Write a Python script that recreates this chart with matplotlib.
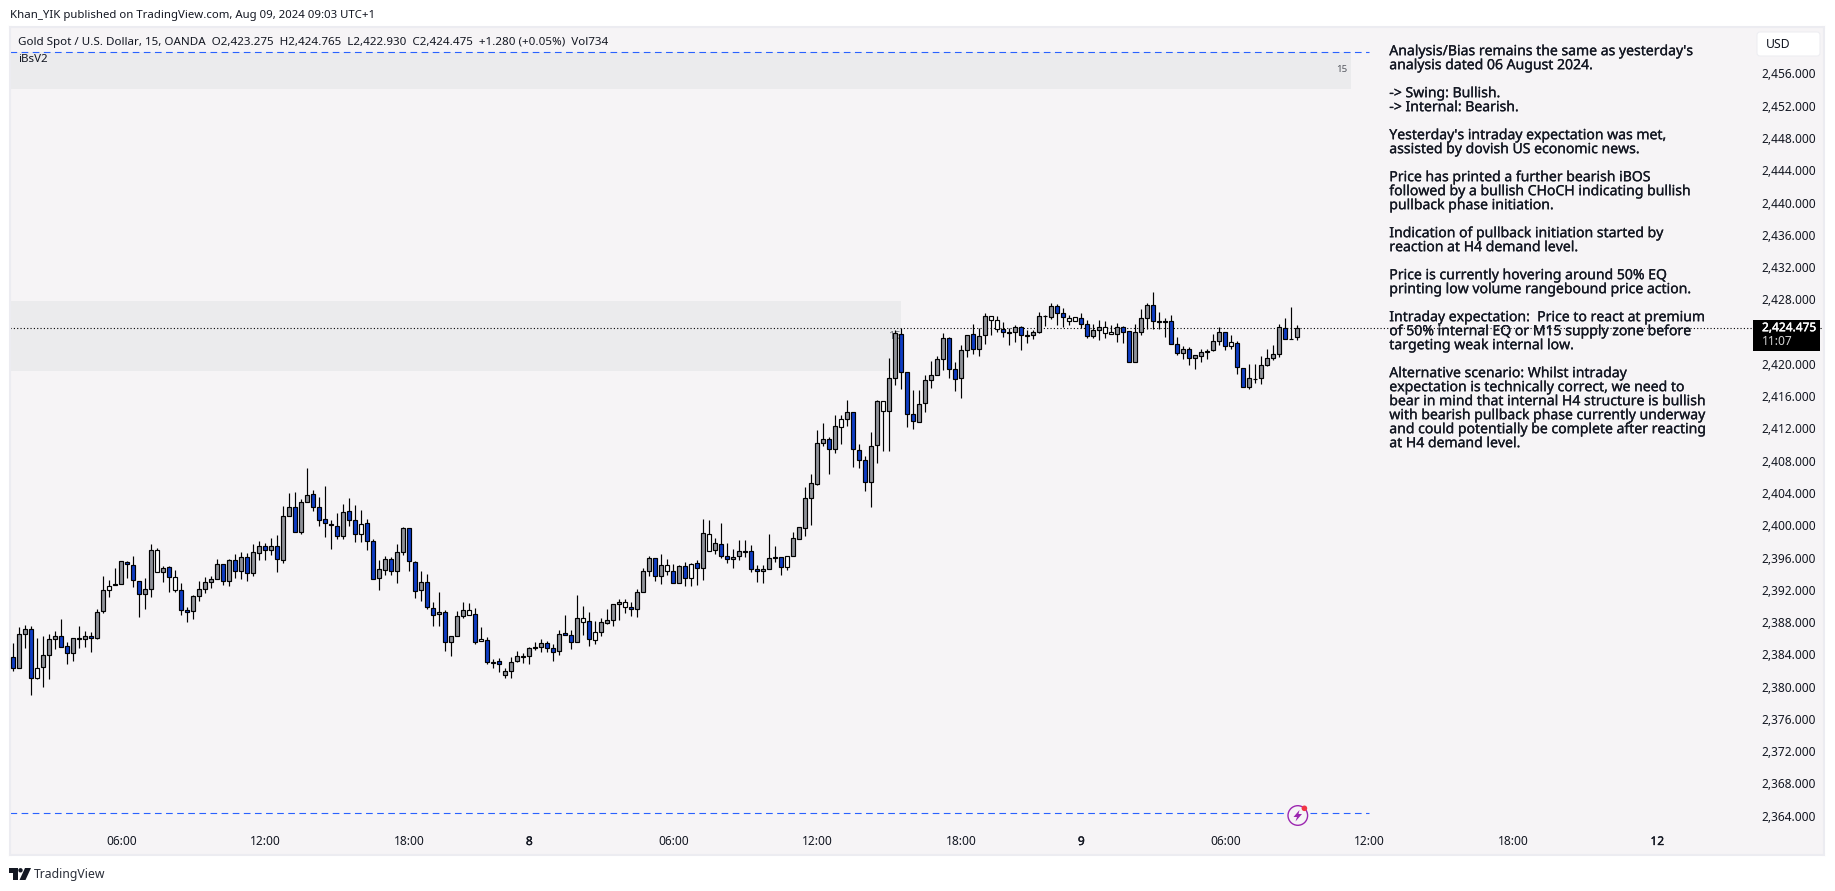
import matplotlib
matplotlib.use("Agg")
import matplotlib.pyplot as plt
import matplotlib.patheffects as pe
from matplotlib.patches import Rectangle, Circle, Polygon, FancyBboxPatch

# ---- OHLC values (15 min bars) ----
highs = [
 2385.37,2387.35,2387.60,2387.47,2385.98,2386.27,2386.48,2386.89,2388.38,2385.53,
 2385.98,2387.51,2386.89,2386.77,2389.58,2393.71,2393.22,2394.70,2395.61,2395.61,
 2396.15,2393.05,2393.46,2397.68,2397.14,2394.91,2394.91,2394.41,2392.80,2389.83,
 2391.32,2393.09,2393.59,2393.71,2395.78,2395.24,2395.82,2396.40,2396.65,2396.52,
 2397.68,2398.01,2397.76,2398.42,2398.79,2402.35,2404.00,2404.12,2403.22,2407.06,
 2404.33,2403.50,2404.83,2400.65,2401.48,2402.60,2403.34,2402.47,2401.85,2400.74,
 2398.26,2395.65,2396.15,2396.03,2397.68,2399.74,2399.62,2395.53,2394.29,2393.96,
 2390.45,2391.69,2389.45,2386.23,2389.37,2390.45,2390.32,2389.70,2387.35,2386.11,
 2383.38,2383.50,2382.26,2383.63,2384.37,2384.12,2384.87,2385.49,2385.86,2385.61,
 2385.28,2386.97,2388.83,2386.97,2391.31,2389.95,2389.21,2388.09,2388.46,2389.58,
 2390.20,2390.82,2390.82,2390.45,2392.06,2394.66,2396.15,2395.90,2396.40,2395.78,
 2395.16,2395.03,2395.40,2395.28,2395.65,2400.73,2400.61,2398.38,2400.28,2397.76,
 2397.02,2398.13,2398.13,2397.51,2395.07,2395.07,2398.87,2397.43,2396.02,2396.15,
 2399.12,2399.74,2404.70,2406.35,2411.76,2412.63,2410.90,2413.62,2413.62,2415.48,
 2414.00,2410.03,2408.54,2411.52,2415.48,2415.36,2420.69,2424.20,2424.41,2418.95,
 2416.72,2416.72,2418.58,2420.36,2420.94,2423.83,2423.29,2420.19,2422.30,2423.54,
 2424.90,2424.41,2426.27,2425.90,2425.90,2425.15,2424.41,2424.78,2424.66,2424.20,
 2424.20,2426.39,2426.02,2427.59,2427.38,2426.89,2426.02,2425.77,2426.27,2425.40,
 2424.90,2425.40,2425.28,2424.78,2425.03,2424.66,2424.04,2424.90,2426.76,2427.51,
 2428.87,2426.39,2425.65,2426.02,2423.29,2422.22,2422.05,2421.06,2421.81,2421.81,
 2423.66,2424.53,2423.91,2423.54,2422.80,2419.45,2419.99,2419.99,2420.98,2421.81,
 2422.30,2424.90,2425.65,2427.01,2424.765]

body_tops = [
 2383.71,2386.48,2387.18,2387.18,2382.35,2383.96,2385.86,2386.23,2386.23,2384.99,
 2385.98,2385.98,2386.23,2386.23,2389.21,2391.93,2392.51,2392.76,2395.53,2395.49,
 2395.03,2393.05,2392.06,2396.89,2396.89,2394.66,2394.79,2393.55,2391.93,2389.46,
 2391.19,2392.06,2392.93,2393.30,2395.16,2395.16,2395.65,2395.65,2396.03,2396.03,
 2396.65,2397.39,2397.39,2397.39,2397.39,2401.11,2402.22,2402.22,2402.84,2403.71,
 2403.83,2402.22,2400.74,2400.12,2399.87,2401.60,2401.73,2400.61,2400.12,2400.24,
 2398.01,2394.54,2395.78,2395.78,2396.65,2399.62,2399.62,2395.41,2392.92,2392.92,
 2389.70,2389.21,2389.21,2386.23,2388.71,2389.45,2389.45,2388.96,2385.86,2385.74,
 2383.01,2383.13,2381.89,2383.01,2383.75,2383.75,2384.74,2384.87,2385.36,2385.36,
 2384.74,2386.48,2386.60,2386.35,2388.46,2388.46,2388.09,2386.73,2387.97,2388.21,
 2390.20,2390.45,2390.45,2389.83,2391.69,2394.29,2395.90,2395.90,2395.03,2395.03,
 2394.29,2394.91,2394.91,2395.16,2395.28,2399.00,2398.87,2397.76,2397.64,2396.15,
 2396.02,2396.77,2396.77,2396.77,2394.54,2394.54,2395.90,2396.02,2396.02,2396.15,
 2398.38,2399.74,2403.34,2405.20,2410.15,2410.65,2410.65,2412.26,2413.13,2414.00,
 2414.00,2409.28,2408.05,2409.78,2415.36,2415.36,2418.21,2423.79,2423.66,2418.95,
 2413.75,2414.99,2417.96,2418.58,2420.57,2423.17,2423.17,2419.33,2421.68,2423.54,
 2423.66,2423.42,2425.90,2425.90,2425.40,2424.28,2423.91,2424.53,2424.53,2423.54,
 2423.91,2425.90,2425.94,2427.13,2427.13,2426.27,2425.65,2425.77,2425.65,2424.90,
 2424.16,2424.53,2424.53,2423.91,2424.53,2424.53,2424.04,2423.91,2425.65,2427.26,
 2427.26,2425.28,2425.28,2425.28,2422.43,2421.81,2421.81,2421.06,2421.43,2421.56,
 2422.80,2423.91,2423.91,2422.67,2422.55,2419.45,2418.21,2418.13,2419.82,2420.69,
 2421.19,2424.53,2424.41,2423.09,2424.475]

body_bottoms = [
 2382.27,2382.27,2386.48,2381.03,2381.03,2382.47,2383.96,2385.86,2384.95,2384.13,
 2384.13,2385.90,2385.86,2385.98,2385.98,2389.33,2391.93,2392.55,2392.68,2395.16,
 2393.17,2391.44,2391.44,2392.06,2394.17,2394.17,2393.55,2391.93,2389.46,2389.29,
 2389.33,2391.19,2392.06,2392.93,2393.30,2393.05,2393.05,2394.29,2394.29,2394.04,
 2394.04,2396.52,2396.89,2396.89,2395.78,2395.65,2401.11,2399.12,2399.12,2402.84,
 2402.22,2400.61,2400.24,2400.07,2398.63,2398.63,2400.61,2398.96,2398.88,2398.01,
 2393.30,2393.42,2394.41,2394.29,2394.29,2396.65,2395.53,2391.81,2391.93,2389.83,
 2388.83,2388.96,2385.49,2385.49,2386.23,2388.71,2388.83,2385.57,2385.61,2383.01,
 2382.97,2382.76,2381.40,2381.89,2383.13,2383.71,2383.75,2384.74,2384.87,2384.74,
 2384.25,2384.37,2386.35,2385.49,2385.49,2387.97,2385.86,2385.74,2386.73,2387.84,
 2388.21,2390.20,2389.83,2389.58,2389.58,2391.69,2394.29,2393.67,2393.67,2394.29,
 2392.80,2392.80,2393.42,2393.42,2394.66,2394.66,2396.77,2396.89,2396.15,2395.78,
 2395.78,2396.15,2396.73,2394.54,2394.29,2394.29,2394.54,2395.98,2394.78,2394.78,
 2396.15,2398.26,2399.62,2403.34,2405.15,2410.15,2409.41,2409.41,2412.14,2413.13,
 2409.41,2408.05,2405.32,2405.32,2409.90,2414.12,2414.12,2418.21,2418.95,2413.75,
 2412.88,2412.76,2415.11,2417.96,2418.58,2420.57,2419.33,2418.09,2418.21,2421.68,
 2421.80,2421.80,2423.54,2425.40,2424.28,2423.91,2423.87,2423.91,2423.54,2423.50,
 2423.54,2423.91,2425.90,2425.77,2426.27,2425.77,2425.28,2425.28,2424.90,2423.42,
 2423.42,2424.16,2423.79,2423.66,2423.66,2423.91,2420.19,2420.19,2423.91,2425.65,
 2425.28,2425.15,2425.23,2422.43,2421.31,2421.31,2420.69,2420.69,2420.94,2421.43,
 2421.68,2422.80,2422.18,2422.18,2419.57,2417.10,2417.10,2418.09,2418.21,2419.82,
 2420.69,2421.19,2423.05,2423.05,2423.275]

lows = [
 2381.98,2382.27,2384.74,2378.96,2380.90,2379.99,2380.98,2384.70,2384.87,2382.84,
 2383.22,2384.74,2384.95,2384.33,2385.86,2389.17,2391.15,2392.55,2392.68,2393.50,
 2392.39,2388.67,2389.66,2391.15,2394.17,2393.01,2391.77,2391.77,2388.92,2388.05,
 2388.42,2390.65,2391.65,2392.27,2393.30,2392.60,2392.51,2393.46,2393.30,2393.13,
 2393.75,2395.69,2395.69,2396.31,2394.25,2395.36,2401.11,2399.12,2398.96,2402.84,
 2401.81,2399.91,2398.55,2397.10,2398.34,2398.34,2399.95,2397.97,2397.97,2396.93,
 2393.30,2392.02,2393.88,2393.88,2392.89,2396.36,2394.37,2391.03,2390.65,2389.58,
 2387.55,2387.55,2384.45,2383.83,2386.23,2388.54,2388.83,2385.32,2385.61,2382.84,
 2382.35,2381.85,2381.11,2381.11,2383.09,2382.97,2382.84,2384.50,2384.33,2384.25,
 2383.21,2383.96,2386.35,2384.70,2385.49,2386.44,2385.07,2385.32,2386.31,2387.72,
 2387.55,2388.30,2389.12,2388.79,2388.67,2391.69,2393.71,2393.09,2392.72,2393.83,
 2392.80,2392.80,2392.47,2392.47,2392.59,2393.21,2396.77,2396.44,2395.98,2395.32,
 2394.70,2395.69,2396.06,2394.21,2392.97,2392.84,2394.54,2395.45,2393.83,2394.45,
 2396.15,2398.26,2398.67,2400.07,2405.03,2409.86,2406.39,2409.00,2410.11,2412.30,
 2407.26,2407.14,2404.28,2402.30,2407.76,2409.24,2409.24,2417.42,2416.85,2412.22,
 2411.97,2412.76,2414.08,2417.05,2418.58,2419.28,2418.29,2416.68,2415.81,2420.90,
 2421.18,2421.02,2422.42,2423.62,2423.95,2423.29,2422.30,2422.71,2421.68,2422.63,
 2423.09,2423.79,2424.70,2425.52,2424.82,2424.57,2424.86,2425.28,2424.41,2423.17,
 2423.17,2422.96,2423.21,2423.66,2422.67,2422.63,2420.19,2420.19,2423.54,2424.28,
 2424.28,2424.33,2423.29,2422.43,2421.06,2420.57,2419.90,2419.41,2420.28,2420.65,
 2421.56,2422.30,2421.68,2421.81,2418.79,2417.10,2416.93,2417.59,2417.55,2419.70,
 2420.44,2420.90,2423.05,2423.05,2422.93]

# g = grey up bar, b = blue down bar, w = white bar
candle_kinds = ("bggbwgggbb" "gggbggwggb" "bbggwgbwbb" "gggggbgbgb" "ggbgbggbgg"
                "bbbgbgbbwb" "bggbggbbgb" "bgbgggwbwb" "gbgggggbgb" "bgbbgwbwgg"
                "ggwbgggbgw" "bgbwbgwgbb" "gggbbgggbw" "ggggggbgwg" "bbbggwggbb"
                "bgggggbbgg" "bggwwbggbg" "ggggbbwwbb" "ggwwgbbggg" "bbgbbgbggg"
                "ggbwbbgggg" "ggbgg")

price_ticks = [2456, 2452, 2448, 2444, 2440, 2436, 2432, 2428, 2420, 2416, 2412,
               2408, 2404, 2400, 2396, 2392, 2388, 2384, 2380, 2376, 2372, 2368, 2364]
time_tick_bars = [18, 42, 66, 86, 110, 134, 158, 178, 202, 226, 250, 274]
time_tick_labels = ["06:00", "12:00", "18:00", "8", "06:00", "12:00", "18:00", "9",
                    "06:00", "12:00", "18:00", "12"]
bold_time_labels = {"8", "9", "12"}

last_price = 2424.475
upper_zone = (2454.04, 2458.70, 222.9)
lower_zone = (2419.16, 2427.84, 148)
upper_dash = 2458.70
lower_dash = 2364.29
dash_end_bar = 226

note_lines = [
    "Analysis/Bias remains the same as yesterday's",
    "analysis dated 06 August 2024.",
    "",
    "-> Swing: Bullish.",
    "-> Internal: Bearish.",
    "",
    "Yesterday's intraday expectation was met,",
    "assisted by dovish US economic news.",
    "",
    "Price has printed a further bearish iBOS",
    "followed by a bullish CHoCH indicating bullish",
    "pullback phase initiation.",
    "",
    "Indication of pullback initiation started by",
    "reaction at H4 demand level.",
    "",
    "Price is currently hovering around 50% EQ",
    "printing low volume rangebound price action.",
    "",
    "Intraday expectation:  Price to react at premium",
    "of 50% internal EQ or M15 supply zone before",
    "targeting weak internal low.",
    "",
    "Alternative scenario: Whilst intraday",
    "expectation is technically correct, we need to",
    "bear in mind that internal H4 structure is bullish",
    "with bearish pullback phase currently underway",
    "and could potentially be complete after reacting",
    "at H4 demand level.",
]

assert len(highs) == len(lows) == len(body_tops) == len(body_bottoms) == len(candle_kinds)

# ---- Styling ----
FONT = "Noto Sans"
PANEL = "#f6f4f6"
ZONE = "#ebebed"
BORDER = "#ececf1"
INK = "#131722"
KIND_COLOR = {"g": "#8f9299", "b": "#0e3cc4", "w": "#ffffff"}
W, H = 1835, 891
AX_L, AX_R, AX_T, AX_B = 10, 1824, 27, 855


def heavy(color, width=0.35):
    return [pe.withStroke(linewidth=width, foreground=color)]


plt.rcParams["font.family"] = FONT
fig = plt.figure(figsize=(W / 100, H / 100), dpi=100, facecolor="white")
ax = fig.add_axes([AX_L / W, 1 - AX_B / H, (AX_R - AX_L) / W, (AX_B - AX_T) / H], facecolor=PANEL)

# bar index <-> pixel: 6 px per bar, first bar at x = 13.33
ax.set_xlim((AX_L - 13.33) / 6, (AX_R - 13.33) / 6)
ax.set_ylim(2456 - (AX_B - 73.5) / 8.067, 2456 + (73.5 - AX_T) / 8.067)

for s in ax.spines.values():
    s.set_color(BORDER)
    s.set_linewidth(1.5)

# Zones
x_left = ax.get_xlim()[0]
ax.add_patch(Rectangle((x_left, upper_zone[0]), upper_zone[2] - x_left,
                       upper_zone[1] - upper_zone[0], color=ZONE, lw=0, zorder=1))
ax.add_patch(Rectangle((x_left, lower_zone[0]), lower_zone[2] - x_left,
                       lower_zone[1] - lower_zone[0], color=ZONE, lw=0, zorder=1))
ax.text(upper_zone[2] - 0.6, 2456.5, "15", fontsize=7, color="#555860", ha="right", va="center", zorder=2)
ax.text(145.8, 2423.46, "15", fontsize=8, color="#6b6e76", ha="left", va="center", zorder=2)

# Dashed levels
ax.plot([x_left, dash_end_bar], [upper_dash] * 2, color="#2962ff", lw=0.8, dashes=(6, 4), zorder=2)
ax.plot([x_left, dash_end_bar], [lower_dash] * 2, color="#2962ff", lw=0.8, dashes=(6, 4), zorder=2)

# Last price line
ax.axhline(last_price, color="black", lw=0.8, dashes=(1, 2), zorder=2)

# Candles
xs = list(range(len(highs)))
ax.vlines(xs, lows, highs, colors="black", linewidth=0.85, zorder=3)
ax.bar(xs, [t - b for t, b in zip(body_tops, body_bottoms)], bottom=body_bottoms,
       width=4 / 6, color=[KIND_COLOR[k] for k in candle_kinds],
       edgecolor="black", linewidth=0.85, zorder=4)

# Axes ticks inside the panel
ax.yaxis.tick_right()
ax.set_yticks(price_ticks)
ax.set_yticklabels([f"{p:,.3f}" for p in price_ticks])
ax.tick_params(axis="y", length=0, pad=-(AX_R - 1761.5) * 0.72, labelsize=8.6, labelcolor=INK)
ax.set_xticks(time_tick_bars)
ax.set_xticklabels(time_tick_labels)
ax.tick_params(axis="x", length=0, pad=-20 * 0.72, labelsize=8.6, labelcolor=INK)
for lab in ax.get_xticklabels():
    if lab.get_text() in bold_time_labels:
        lab.set_path_effects(heavy(INK, 0.25))

# Overlay in pixel coordinates for the page furniture
ov = fig.add_axes([0, 0, 1, 1], zorder=5)
ov.set_xlim(0, W)
ov.set_ylim(H, 0)
ov.axis("off")
ov.patch.set_alpha(0)

ov.text(10, 15.7, "Khan_YIK published on TradingView.com, Aug 09, 2024 09:03 UTC+1",
        fontsize=8.2, color=INK, va="center", ha="left")
ov.text(18, 42, "Gold Spot / U.S. Dollar, 15, OANDA  O2,423.275  H2,424.765  L2,422.930  "
                "C2,424.475  +1.280 (+0.05%)  Vol734",
        fontsize=8.37, color=INK, va="center", ha="left")
ov.text(18, 59.5, "iBsV2", fontsize=8.3, color=INK, va="center", ha="left")

y = 51.7
for line in note_lines:
    if line:
        ov.text(1389.3, y, line, fontsize=10.1, color=INK, va="center", ha="left",
                path_effects=heavy(INK, 0.18))
    y += 14

# USD box
ov.add_patch(FancyBboxPatch((1757, 32), 63, 24, boxstyle="round,pad=0,rounding_size=3",
                            fc="white", ec="#eeeef2", lw=0.8))
ov.text(1766, 44.5, "USD", fontsize=8.8, color=INK, va="center", ha="left")

# Last price tag
ov.add_patch(Rectangle((1753, 320), 67, 31, color="black", lw=0))
ov.text(1762, 327.7, f"{last_price:,.3f}", fontsize=8.6, color="white", va="center", ha="left",
        path_effects=heavy("white", 0.3))
ov.text(1762, 341.7, "11:07", fontsize=8.6, color="#d5d5d5", va="center", ha="left")

# Lightning badge
ov.add_patch(Circle((1297.8, 815.5), 9.8, fill=True, fc=PANEL, ec="#9c27b0", lw=1.0))
ov.add_patch(Polygon([(1299.5, 810), (1293.5, 817), (1297, 817), (1295.5, 821.5), (1302, 814), (1298.5, 814)],
                     closed=True, color="#9c27b0", lw=0))
ov.add_patch(Circle((1304.4, 808.3), 2.8, color="#f23645", lw=0, zorder=6))

# TradingView mark
ov.add_patch(Polygon([(9, 868), (18, 868), (18, 880), (13, 880), (13, 873), (9, 873)], closed=True, color=INK, lw=0))
ov.add_patch(Circle((20.5, 870.3), 2.2, color=INK, lw=0))
ov.add_patch(Polygon([(25, 868), (31, 868), (25.5, 880), (19.5, 880)], closed=True, color=INK, lw=0))
ov.text(33.5, 874.3, "TradingView", fontsize=8.8, color="#2a2e39", va="center", ha="left")

fig.savefig("out.png", dpi=100, facecolor="white")
